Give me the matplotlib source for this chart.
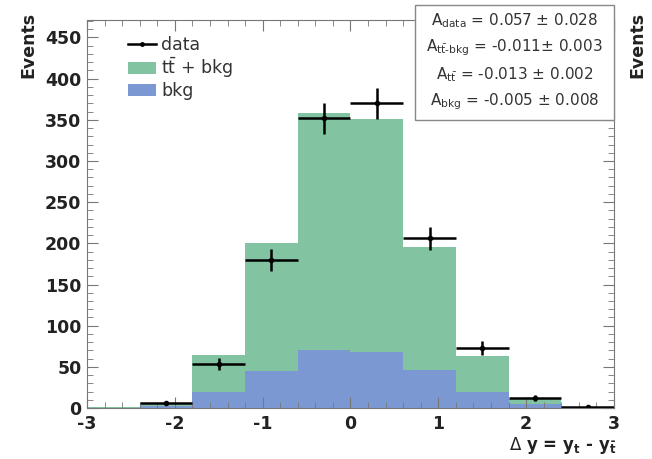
import numpy as np
import matplotlib
matplotlib.use("Agg")
import matplotlib.pyplot as plt
from matplotlib.ticker import MultipleLocator
from matplotlib.lines import Line2D
from matplotlib.patches import Patch

plt.rcParams['font.family'] = ['DejaVu Sans']
plt.rcParams['axes.unicode_minus'] = False
plt.rcParams['mathtext.fontset'] = 'dejavusans'

bin_edges = [-3.0, -2.4, -1.8, -1.2, -0.6, 0.0, 0.6, 1.2, 1.8, 2.4, 3.0]
ttbar_plus_bkg = [1, 5, 65, 200, 358, 351, 195, 63, 11, 1]
bkg = [0.5, 2, 20, 45, 70, 68, 46, 20, 5, 1]
data = [0, 6, 53, 180, 352, 370, 206, 73, 12, 1]
stat_lines = [r"A$_\mathregular{data}$ = 0.057 $\pm$ 0.028",
              r"A$_{\mathregular{t\bar{t}\text{-}bkg}}$ = -0.011$\pm$ 0.003",
              r"A$_{\mathregular{t\bar{t}}}$ = -0.013 $\pm$ 0.002",
              r"A$_\mathregular{bkg}$ = -0.005 $\pm$ 0.008"]

green = '#82c4a2'
blue = '#7b98d2'

fig = plt.figure(figsize=(6.52, 4.59), dpi=100)
ax = fig.add_axes([0.1334, 0.111, 0.8083, 0.845])

edges = np.array(bin_edges)
widths = np.diff(edges)
centers = edges[:-1] + widths / 2
ax.bar(edges[:-1], ttbar_plus_bkg, width=widths, align='edge', color=green, linewidth=0)
ax.bar(edges[:-1], bkg, width=widths, align='edge', color=blue, linewidth=0)

d = np.array(data, dtype=float)
m = d > 0
ax.errorbar(centers[m], d[m], xerr=widths[m] / 2, yerr=np.sqrt(d[m]), fmt='o', color='black',
            markersize=3, elinewidth=1.8, capsize=0)

ax.set_xlim(-3, 3)
ax.set_ylim(0, 471)
ax.xaxis.set_major_locator(MultipleLocator(1))
ax.xaxis.set_minor_locator(MultipleLocator(0.2))
ax.yaxis.set_major_locator(MultipleLocator(50))
ax.yaxis.set_minor_locator(MultipleLocator(10))
ax.tick_params(which='both', direction='in', top=True, right=True, color='#777777')
ax.tick_params(which='major', length=8, labelsize=12.5)
ax.tick_params(which='minor', length=4)
ax.tick_params(axis='x', pad=5)
ax.tick_params(axis='y', pad=4)
yticks = ax.yaxis.get_major_ticks()
for i, t in enumerate(yticks):
    t.label1.set_fontweight('bold')
    t.label1.set_color('#222222')
for t in ax.xaxis.get_major_ticks():
    t.label1.set_fontweight('bold')
    t.label1.set_color('#222222')
yticks[0].label1.set_verticalalignment('baseline')
for s in ax.spines.values():
    s.set_color('#777777')

fig.text(0.043, 0.975, 'Events', rotation=90, ha='center', va='top', fontsize=12.5, fontweight='bold',
         color='#222222')
fig.text(0.978, 0.975, 'Events', rotation=90, ha='center', va='top', fontsize=12.5, fontweight='bold',
         color='#222222')
fig.text(0.945, 0.03, r'$\Delta$ y = y$_\mathregular{t}$ - y$_{\mathregular{\bar{t}}}$',
         ha='right', va='center', fontsize=12, fontweight='bold', color='#222222')

handles = [Line2D([0], [0], color='black', marker='o', markersize=2.5, lw=1.8),
           Patch(facecolor=green), Patch(facecolor=blue)]
ax.legend(handles, [r'data', r'$\mathregular{t\bar{t}}$ + bkg', 'bkg'], loc='upper left',
          bbox_to_anchor=(0.055, 0.99), frameon=False, fontsize=12.5, handlelength=1.6,
          handletextpad=0.3, labelspacing=0.1, borderpad=0.2, labelcolor='#333333')

# stat box
bx0, by0, bx1, by1 = 415 / 652, 1 - 120 / 459, 614 / 652, 1 - 5 / 459
box = plt.Rectangle((bx0, by0), bx1 - bx0, by1 - by0, transform=fig.transFigure,
                    facecolor='white', edgecolor='#888888', lw=1, zorder=5)
fig.add_artist(box)
ys = [21, 48, 75, 102]
for t, yp in zip(stat_lines, ys):
    fig.text((bx0 + bx1) / 2, 1 - yp / 459, t, ha='center', va='center', fontsize=11,
             color='#333333', zorder=6)

fig.savefig('out.png', dpi=100)
